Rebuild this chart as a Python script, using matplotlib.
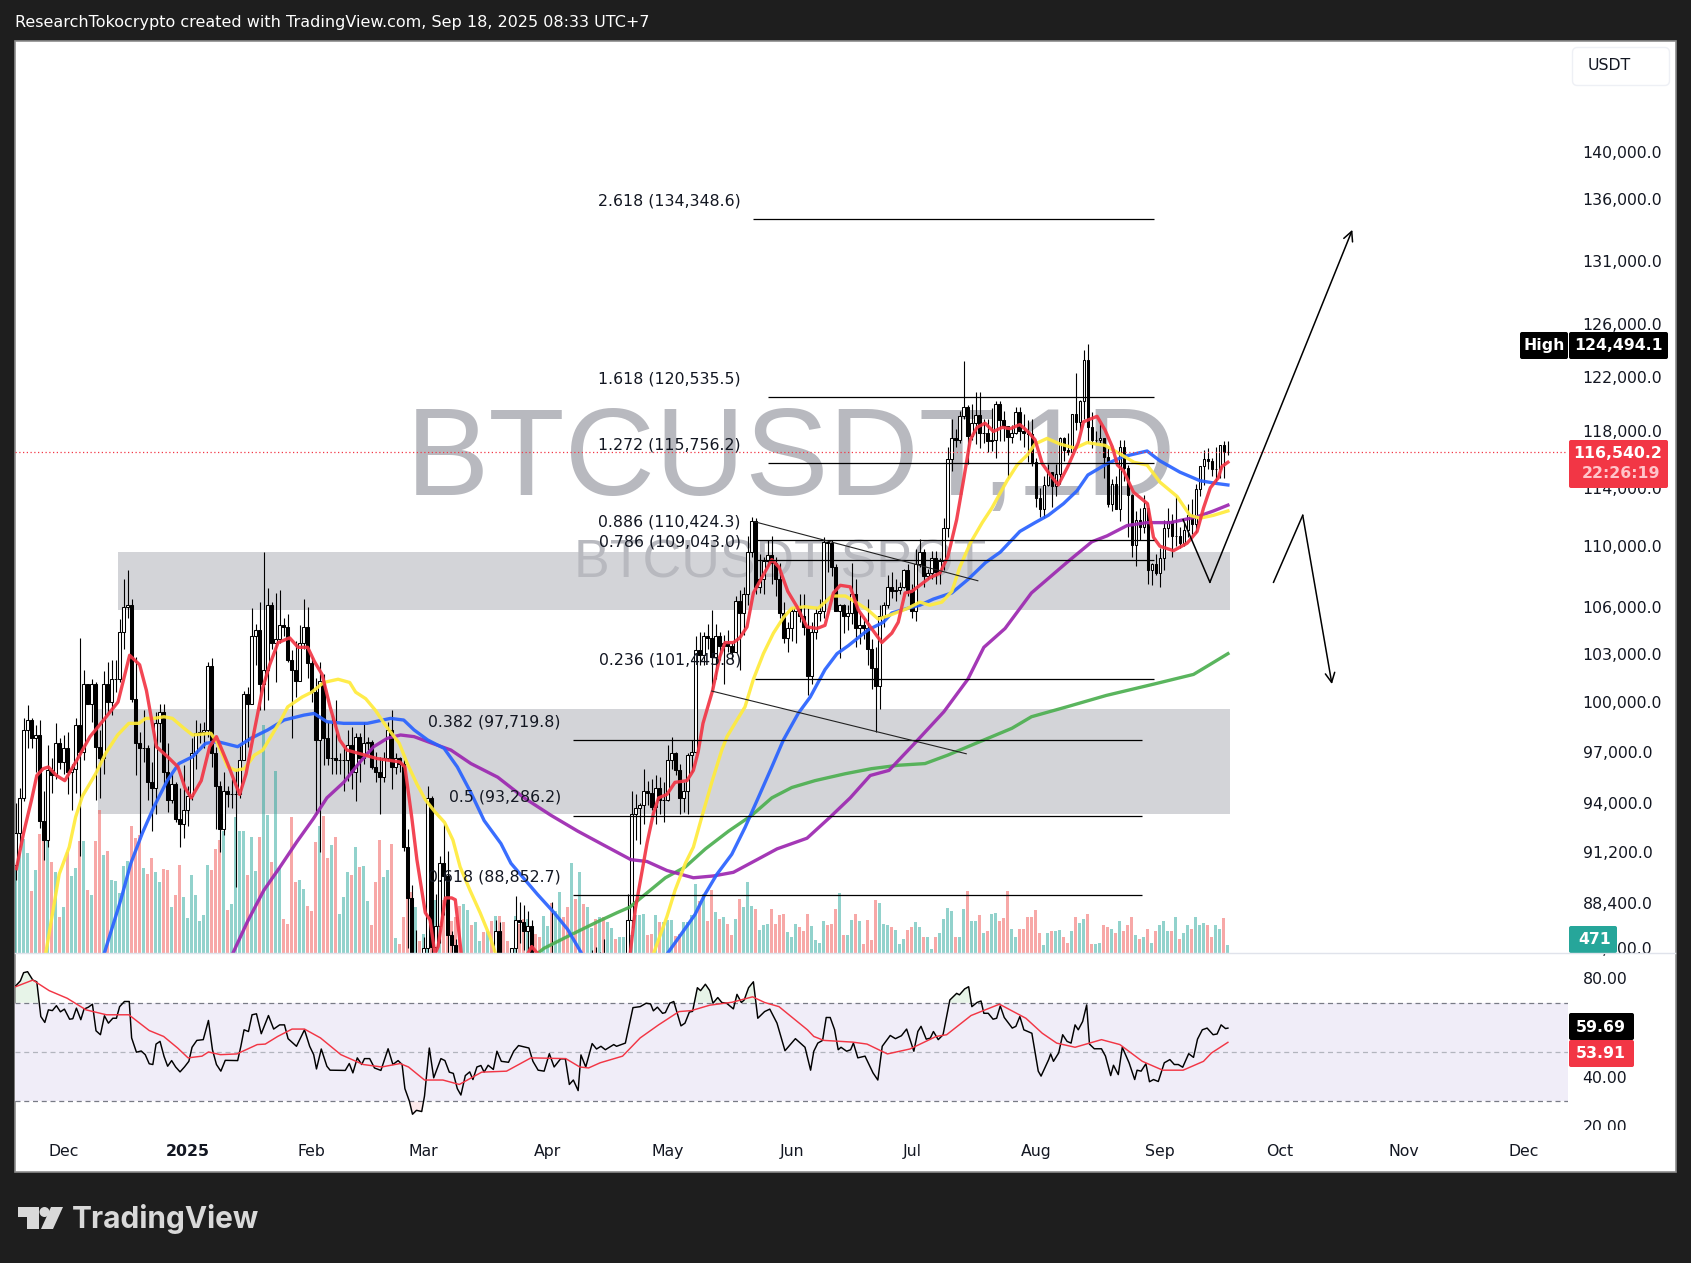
import numpy as np
import matplotlib
matplotlib.use("Agg")
import matplotlib.pyplot as plt
from matplotlib.patches import Rectangle, FancyBboxPatch, Polygon, Circle

# ---------- daily candles, thousands of USDT, 19 Nov 2024 .. 18 Sep 2025 ----------
first_open = 90.5
highs = [94.0,94.9,99.0,99.8,99.0,98.6,98.9,94.7,97.4,96.6,98.7,97.8,
 98.0,98.2,96.3,99.0,104.0,102.0,101.0,101.4,101.2,98.3,101.9,102.5,102.6,102.6,105.2,107.8,108.4,106.5,102.8,98.2,99.5,97.4,96.4,99.4,99.9,99.9,97.5,95.7,95.2,94.9,96.2,
 95.0,97.8,98.9,98.7,98.8,102.5,102.7,97.3,95.3,95.8,95.0,95.4,95.9,97.4,100.7,100.9,105.9,104.9,106.3,109.6,107.2,106.3,106.9,107.1,105.3,105.5,103.2,103.8,104.8,106.5,106.0,
 102.8,101.5,102.5,101.7,98.8,99.2,100.1,96.9,97.3,98.3,98.5,98.1,98.1,98.8,97.9,97.7,97.0,96.7,97.0,98.8,99.5,96.9,96.7,96.5,92.5,89.4,87.0,85.1,
 86.6,95.0,94.4,88.9,91.0,92.8,91.3,86.9,86.5,84.1,83.6,84.4,84.3,85.3,84.7,85.1,84.7,84.1,87.5,87.4,85.0,84.5,86.0,88.8,88.5,88.3,88.0,87.5,84.6,83.5,83.9,
 85.5,88.5,83.9,84.7,84.2,83.8,81.2,80.8,83.5,82.7,84.3,85.9,86.1,85.8,86.5,85.5,85.5,85.1,85.7,85.3,88.9,94.7,94.5,94.0,96.0,95.3,95.4,95.6,95.5,95.2,
 97.4,97.9,97.0,96.3,95.2,96.9,97.7,104.1,104.4,104.4,104.9,105.8,104.9,104.4,104.2,104.5,103.7,106.7,107.1,107.3,110.7,112.0,111.9,109.5,109.3,110.4,110.7,109.3,108.9,106.3,105.0,
 105.9,105.9,106.8,106.8,105.9,105.0,105.9,106.5,110.6,110.4,110.4,108.8,106.2,106.2,106.1,108.9,107.8,105.6,105.3,106.5,103.9,103.4,106.1,106.3,108.1,108.3,107.8,107.6,108.5,108.8,
 107.5,109.8,110.5,109.8,108.5,109.7,109.7,109.2,111.9,116.9,118.9,118.2,119.5,123.2,119.9,120.0,120.9,120.9,118.9,118.9,119.7,120.2,120.2,119.5,118.4,118.5,119.8,119.8,119.3,118.8,118.9,
 116.1,114.0,114.8,115.7,115.1,115.7,117.6,117.6,117.9,119.3,122.3,120.3,124.0,124.5,119.4,118.0,118.6,117.5,116.8,114.6,114.8,117.4,117.4,115.6,113.6,112.4,112.6,113.5,112.6,108.9,109.5,
 109.9,111.8,112.6,112.2,113.4,111.3,111.6,112.9,113.2,114.3,115.4,116.7,116.8,116.1,116.9,117.0,117.3,117.3]
lows = [89.7,91.5,94.1,97.2,97.2,95.8,92.6,90.8,91.5,94.6,95.4,96.0,
 95.7,94.5,93.6,94.6,91.0,96.5,99.9,98.8,94.2,94.3,95.7,99.3,99.2,100.6,101.2,103.3,105.3,100.0,95.6,92.1,96.4,94.2,92.4,93.4,97.6,95.1,93.5,94.0,92.9,91.5,92.0,
 92.7,94.2,96.0,97.5,97.2,97.9,96.1,92.5,91.2,92.2,93.8,93.7,89.3,94.3,96.5,97.3,99.9,102.3,99.5,99.5,100.1,103.3,101.2,103.7,104.1,102.5,97.8,100.3,101.3,103.3,101.5,
 100.0,93.4,91.2,96.2,96.2,95.7,95.7,95.7,94.7,95.3,94.8,94.1,95.2,96.3,97.1,96.0,95.2,93.4,95.2,96.5,94.8,95.7,95.8,91.3,86.0,82.3,82.7,78.2,
 83.4,85.0,85.1,81.4,86.3,87.8,84.7,85.2,80.0,77.5,76.6,80.6,79.9,80.8,83.6,81.9,82.4,81.1,82.6,83.6,83.2,83.7,83.8,85.5,86.3,85.9,85.9,83.1,81.6,81.6,81.3,
 82.4,82.3,81.2,81.6,82.4,77.2,74.5,76.2,74.6,78.5,78.9,82.8,83.0,83.2,83.6,83.1,83.7,84.1,84.4,83.9,85.1,87.1,91.9,91.7,92.8,93.9,93.6,92.8,93.4,92.9,
 94.1,96.0,95.6,93.4,93.5,93.4,95.8,96.9,102.3,102.3,103.3,100.8,101.4,102.6,101.1,103.1,102.6,103.1,102.0,104.2,106.1,109.3,106.8,106.9,106.8,108.7,107.5,106.7,105.3,103.7,103.1,
 103.8,103.7,105.0,104.2,100.4,101.1,103.9,105.1,105.3,108.3,108.0,105.7,102.7,104.3,104.5,104.9,103.4,103.6,103.9,102.3,100.8,98.2,99.6,104.7,105.9,106.6,106.4,106.8,107.2,106.7,
 105.3,105.1,108.6,107.3,107.8,107.8,107.5,107.5,108.4,110.6,115.2,116.9,117.2,118.9,115.7,117.4,117.1,116.8,117.2,116.5,116.6,116.1,117.3,117.3,114.7,117.2,117.8,117.4,116.9,115.8,115.5,
 112.7,112.0,111.9,114.1,112.7,113.4,114.3,115.9,116.3,116.5,118.1,118.2,118.9,117.2,116.8,117.2,117.2,114.7,112.7,112.4,112.6,111.7,114.5,110.6,109.3,108.7,110.4,110.9,107.5,107.4,108.1,
 107.3,108.4,110.6,109.3,110.0,109.9,110.0,110.6,110.8,110.9,113.4,114.2,115.3,114.8,114.4,114.7,114.7,116.3]
closes = [92.3,94.3,98.3,98.9,97.8,98.0,93.0,91.9,95.9,95.6,97.5,96.4,
 97.2,95.8,96.0,98.6,97.0,101.1,99.9,101.1,97.3,96.6,101.1,100.0,101.4,101.4,104.4,106.0,106.1,100.2,97.5,97.2,97.2,95.2,94.9,98.7,99.4,95.8,94.2,95.1,93.1,92.8,93.6,
 94.4,96.9,98.1,98.2,98.3,102.2,96.9,95.0,92.5,94.7,94.5,94.5,94.5,96.5,100.5,99.9,104.1,104.5,101.1,102.0,106.1,103.7,103.9,104.8,104.7,102.6,102.0,101.3,103.7,104.7,102.4,
 100.6,97.7,101.3,97.8,96.6,96.6,96.5,96.5,96.5,97.4,95.8,97.9,96.6,97.5,97.6,96.1,95.8,95.5,96.6,98.3,96.1,96.6,96.3,91.5,88.7,84.2,84.7,84.4,
 86.0,94.3,86.1,87.2,90.6,89.9,86.7,86.2,80.7,78.6,82.9,83.7,81.1,83.9,84.3,82.6,84.1,82.7,86.9,84.2,84.0,83.8,86.0,87.5,87.4,86.9,87.2,84.4,82.6,82.4,82.5,
 85.2,82.5,83.1,83.8,83.5,78.4,79.2,76.3,82.6,79.6,83.4,85.3,83.7,84.5,83.6,84.0,84.9,84.5,85.1,85.2,87.5,93.4,93.7,93.9,94.7,94.6,93.8,94.9,94.2,94.2,
 96.5,96.9,95.9,94.3,94.7,96.8,97.0,103.2,102.9,104.1,104.0,102.8,104.1,103.5,103.7,103.5,103.1,106.4,105.6,106.8,109.6,111.7,107.3,107.8,109.0,109.4,108.9,107.8,105.6,104.0,104.6,
 105.7,105.9,105.4,104.7,101.6,104.4,105.6,105.7,110.3,110.2,108.6,105.7,106.1,105.4,105.6,106.8,104.6,104.8,104.6,103.3,102.1,101.0,105.4,106.1,107.3,107.0,107.1,107.3,108.4,107.1,
 105.7,108.8,109.6,108.0,108.2,109.2,108.3,109.0,111.2,116.0,117.5,117.4,119.1,119.8,117.7,118.6,119.2,117.9,117.9,117.3,117.4,120.0,118.8,118.4,117.6,117.9,119.4,118.0,117.9,117.8,115.8,
 113.3,112.5,114.2,115.1,114.1,115.0,117.5,116.7,116.5,119.3,118.7,120.2,123.3,118.3,117.4,117.4,117.5,116.2,112.9,114.3,112.5,116.9,115.4,113.5,110.1,111.8,111.3,112.6,108.4,108.8,108.2,
 109.2,111.2,111.7,110.7,110.7,110.2,111.1,112.1,111.5,113.9,115.5,116.0,115.9,115.3,115.3,117.0,116.5,116.54]
volumes = [255,300,343,300,185,250,358,355,340,272,242,107,137,302,230,255,335,335,188,175,337,428,295,305,218,215,180,260,275,380,345,355,255,238,285,242,212,253,250,137,173,263,167,105,235,173,95,113,265,250,313,340,365,130,148,407,365,367,235,347,245,347,685,415,272,545,255,103,88,407,212,220,193,142,127,
 332,382,412,284,325,347,117,167,244,234,317,257,260,157,85,214,340,229,250,327,45,27,109,237,182,139,37,57,107,102,159,152,160,157,97,107,142,147,129,85,92,37,62,67,95,112,112,92,35,12,110,87,102,102,67,57,49,112,82,149,127,182,107,139,270,162,242,147,137,75,102,107,107,92,74,42,47,49,
 93,53,113,113,118,53,58,113,93,93,100,100,50,58,93,93,113,206,156,178,96,188,123,103,108,86,55,101,161,138,213,140,133,68,83,88,133,88,115,118,63,48,88,78,66,116,80,38,31,96,83,88,131,181,53,53,100,118,96,28,98,38,158,151,88,85,78,70,28,43,70,78,93,78,
 47,47,12,47,59,101,136,125,47,47,133,187,95,95,113,59,65,116,119,97,104,187,71,47,71,71,107,109,128,59,24,59,65,65,68,47,30,65,109,89,101,116,26,26,30,83,79,71,59,95,65,83,107,53,42,47,71,30,65,83,95,65,65,109,42,59,83,71,109,83,89,83,47,83,71,104,24]

# ---------- moving averages (bar index, thousands of USDT) ----------
red_x = [0.2,2,4,5.3,6.9,8.2,10.2,12.3,15.3,18.6,22,25.6,28.5,31,32.7,35.2,38,40.6,42.3,43.9,46.4,48.5,50.2,53,54.8,56,57.6,59.7,61.8,63.5,65.6,68.5,70.6,73,74.7,76.6,78.6,81,82.8,90.3,96,97.3,99,100.3,102.4,103.6,104.8,105.6,107.4,109,109.9,111.4,113,120,126,129,131,136,143,150,153.6,154.9,157.8,159.4,160.7,162.8,164.8,167.8,169.4,170.6,171.8,174.2,176,177.3,179.4,181,182.8,184.4,186.5,189,190.8,193,195.3,197.8,200.3,202.3,204.4,206.1,208.6,210.6,212.8,216.5,219,220.6,222.3,224,226,228.5,231,233,235.2,236.9,238.6,240.3,242.3,244.4,246.6,248.6,251,253,254.8,256.6,258.6,260.6,263,265.6,266.9,270.3,272.3,274.1,275.4,276.9,279.4,282.9,284.4,286,289.4,292.8,295.3,296.9,298.6,300.6,301.5,303]
red_y = [90.3,92.3,94.2,95.6,96.0,96.1,95.6,95.3,96.5,97.9,98.9,100,102.9,102.3,100.7,97.3,96.7,96.1,94.9,94.3,95.3,97.3,97.9,96.3,95.2,94.5,95.7,98.3,100.9,102.3,103.7,104,103.4,103.4,102.5,101.7,99.7,97.7,97.1,96.6,96.4,96.1,93.2,90.8,87.9,87.5,85.7,86.1,88.7,88.7,88.6,85.7,84.6,83.2,85,86.1,85.6,82.5,80.5,83.5,85.7,88.1,91.7,93.4,94.3,94.5,95.2,95.3,95.9,97,98.7,100.7,102.8,103.7,103.7,104,104.7,106.9,107.9,109.1,108.6,107,106,104.7,104.6,104.8,106.9,107.4,107.3,105.8,105,103.7,104.3,105,106.9,107,107.4,107.9,108.2,109.3,111.8,114.5,117.4,118.3,118.6,118,118.3,118.2,118.5,118,117.4,115.7,114.9,114.2,115.5,117.2,118.7,119.1,118.1,116.9,115.6,115.2,113.7,112.9,110.6,110,109.7,110.2,111,112.6,114,114.7,115.5,115.8]
yellow_x = [7.5,10.9,13.4,15,16.7,20,22.5,25.5,28.3,30.8,32.5,34.6,37.1,39.2,42.1,44.2,48.8,50.5,53,55,57.2,59.7,61.8,63.8,66.3,68,71.6,74,77,80.6,83.5,85,87.5,89.9,92.4,95.9,97.9,100.3,102.4,104.8,107.2,109.3,111.1,113.6,116.1,118.6,120,125,135,145,152,158,159.4,162.8,164.8,167.4,169.4,171.5,174,176.5,177.8,180.3,182.3,184.4,186.9,189.4,191.9,194,197.3,200.6,204,207.4,210.6,213,215.6,219,223,226,228.5,231.5,234,236,238.6,241.6,244,247.8,250.3,252.8,254.8,257.8,261,264.8,267.8,272.3,276,279.5,282.8,286,290.3,293.5,296,299.4,303]
yellow_y = [85.7,90,91.5,93.2,94.4,95.7,96.9,98,98.7,98.7,99,99,99.1,99,98.4,98,98.1,97.5,96.1,95.9,96,96.8,97.1,97.9,98.9,99.7,100.3,100.6,101.2,101.4,101.2,100.6,100.2,99.5,98.6,97.5,96.3,95.1,94.2,93.5,92.9,91.9,90.4,89.1,87.9,86.6,85.7,84,83,81.5,82,84,85.7,87.7,89.1,90.6,91.5,93.2,95.2,97.1,97.9,98.9,99.7,101.4,103,104.3,105.3,105.9,106,105.9,106.7,106.7,106.2,105.8,105.2,105.5,105.9,106.3,106.1,106.3,107,108.6,110.2,111.6,112.6,114.5,115.6,116.3,117.1,117.5,117.1,116.8,117.2,117,116.4,115.8,115.6,114.4,113.4,112.1,111.9,112.1,112.4]
blue_x = [22.1,26.3,28.8,31.7,34.6,37.9,40.8,44.2,47.5,50.5,55.5,58.8,63,67.1,72.1,74.6,77.8,82,87.9,93.7,97,99.6,103,107.1,110.4,113.8,117.1,121.3,123.8,130.4,134.6,138,141.3,147,152,158,162.8,166.5,169.8,172.3,175.3,179,182.3,185.6,189,191.9,195.6,198.6,202.3,205.3,208.1,213,216.9,219,223,226,229.4,234,238.1,242.4,246.1,251,254.8,258.1,261.9,265.3,268,272.8,276.9,282.8,286,291,296,300.3,303]
blue_y = [85.7,88.6,90.6,92.3,93.8,95.3,96.3,96.7,97.5,97.6,97.3,97.8,98.3,98.9,99.2,99.3,98.8,98.7,98.7,99,98.9,98.3,97.7,97.2,96.1,94.6,93,91.7,90.6,88.9,87.9,87,85.8,83,83,84,85.7,86.8,87.8,88.9,90,91.1,92.6,94.3,96.1,97.7,99.3,100.3,102,103,103.5,104.5,105,105.6,105.9,106.1,106.5,106.9,107.8,108.9,109.6,111,111.6,112.1,112.9,113.8,114.9,115.7,116.2,116.6,115.9,115.1,114.5,114.3,114.2]
purple_x = [54.2,57.9,62,66.1,70.3,74.4,77.8,82,86.1,89.5,92.9,96.2,99.6,103,108.8,113.8,120.5,127.1,133.8,140.5,147.1,153.8,157.8,162.8,169.4,174.4,179.4,185.3,190.3,197.8,203.6,208.6,213.6,218.3,224.7,232,238,242,247.3,253.9,262.7,269,272.8,277.8,282.8,288.6,295.3,299.4,303]
purple_y = [85.7,87.4,89.1,90.4,91.8,93.1,94.3,95.2,96.4,97.3,97.8,98,97.9,97.6,97.1,96.3,95.5,94.3,93.3,92.4,91.6,90.8,90.7,90.2,89.8,89.9,90.1,90.8,91.4,92,93.2,94.3,95.6,95.9,97.5,99.4,101.4,103.4,104.6,106.9,108.9,110.3,110.7,111.4,111.6,111.6,112,112.4,112.8]
green_x = [130.3,132,138.6,145.3,150.3,153.5,157.4,162.4,167.4,172.4,178.2,184,189,194,199.8,207.3,213.9,220.6,227.3,233,240,249,253.9,262.7,272.6,284.5,294.4,298.4,303]
green_y = [85.7,86,86.7,87.4,87.9,88.2,88.9,89.8,90.4,91.4,92.4,93.3,94.3,94.9,95.3,95.7,96,96.2,96.3,96.8,97.5,98.4,99.1,99.7,100.4,101.1,101.7,102.3,103]

# ---------- RSI ----------
rsi_x = [0,1.2,2,3,4.3,5.3,6.3,7.3,8.2,9.2,10.2,11.2,12.2,13.5,14.3,15.2,16.3,17.1,18.2,19.2,20.1,21.2,22.2,23.2,24.3,25.2,26,27.2,28.4,29,30.2,31.4,32.4,33.4,34.3,35.1,36.1,37.1,38,39,40,41.1,42.2,43.3,44.1,45.3,46.9,48.2,49.2,50.2,51.3,52.4,55.5,56.3,57.1,58.2,59.1,60.2,61.4,63.2,64.5,66,67.2,68.1,70.2,72.2,73.5,74.5,75.2,76.4,77.8,78.6,82.4,83.4,84.3,85.4,86.5,87.2,88.5,89.7,91.3,93.1,94.3,95.6,96.6,97.3,98.4,99.2,100.2,101.5,102.2,103.4,104.5,106.3,107.3,108.4,109.4,110.4,111.3,112.4,113.5,114.3,115.3,116.3,117.1,118.1,119.4,120.3,121.4,123.2,124.5,125.7,128.3,129.3,130.6,132.1,133.4,134.6,136.2,137.4,138.4,139.4,140.6,141.3,142.5,144.1,145.2,146.3,147.4,149.5,150.2,152.4,154.3,156.1,157.6,158.7,159.4,160.4,161.7,162.4,163.5,164.5,166.3,167.3,168.4,169.2,170.4,171.2,172.4,173.5,174.3,175.5,176.5,177.7,179.4,180.3,181.4,182.1,183.2,184.4,185.5,187.2,188.5,190.3,192.3,194.9,197.3,198.7,199.5,200.5,201.7,202.6,203.6,204.7,205.6,206.3,207.7,208.7,209.4,210.5,212.3,214.3,215.5,216.6,218.6,219.9,221.4,222.7,224.5,225.5,226.3,227.6,228.6,229.4,230.6,231.8,233.5,235.2,235.9,237.2,238.2,239,240.3,241.3,242,243.1,244.3,245.2,246.1,247.1,249.1,250,251,252,254,255.6,256.3,258.2,258.7,259.4,260.7,261.7,262.8,263.8,264.8,265.6,266.7,267.7,268.4,269.6,271.4,272.4,273.7,274.4,275.6,276.6,278.3,279.7,280.3,281.3,282.5,283.4,284.4,285.6,287.1,288.5,289.6,290.6,291.7,293.2,294.4,295.4,296.6,297.8,299.3,300.3,301.3,302.4,303]
rsi_y = [76.8,78.9,82.2,82.6,79.2,78.5,64.4,62.0,67.1,66.8,68.8,66.3,67.4,63.3,63.5,67.8,63.1,67.4,68.2,69.4,58.6,57.0,64.7,61.7,63.7,63.7,68.4,70.5,70.5,55.7,49.9,50.4,48.9,45.2,44.9,53.2,54.3,48.2,44.2,46.5,43.9,41.9,43.9,46.2,51.9,54.7,55.0,62.8,50.9,44.9,42.2,46.6,46.5,52.3,59,58.3,65.1,65.5,57.4,64.8,59.3,61.0,61.0,55.4,52.3,59.0,52.3,48.9,43.1,51.2,44.2,42.6,42.5,45.3,41.5,47.6,44.9,47.3,47.3,43.5,42.5,51.3,44.9,46.5,44.9,35.1,30.1,24.7,26.3,25.8,32.1,51.6,39.5,47.3,46.5,41.8,41.3,35.1,32.5,40.4,41.9,38.8,43.9,44.5,41.8,44.6,42.9,50.3,46.2,45.8,50.3,52.6,51.6,46.2,42.6,42.2,49.3,43.9,47.2,47.2,36.8,38.6,34.3,48.8,43.9,53.4,51.2,52.3,50.9,53,52.3,53.6,68.0,68.4,69.8,69.5,66.7,68.2,65.7,66,69.8,70.5,60.6,61.7,66.2,66.5,76.1,74.9,77.5,74.9,69.8,72.1,70.1,69.8,67.5,73.4,70.1,71.1,76.1,78.5,63.7,66.4,67.4,61.7,50.5,55.4,51.9,42.6,50.3,53.6,54.7,64,64,59,50.9,51.9,50.3,50.9,53.6,47.6,48.3,41.5,38.6,52.3,56.7,55.4,56.6,59.3,50.3,58.3,60.4,55.2,55.6,58.3,55,57,71.1,73.8,73.2,75.6,76.5,68.4,70.1,70.7,65.7,65.7,63.3,63.7,68.7,64,59.7,60.4,64.4,59,57.6,42.2,40.2,46.9,49.2,46.2,49.6,57,54.3,53.6,61,59,62.4,69.1,53.2,51.3,51.3,48.3,40.4,44.6,40.8,51.9,45.6,38.8,42.6,42.2,45.2,37.9,38.8,38,45.6,46.9,44.9,44.9,43.8,49.3,47.8,55.2,59,59.7,57,57.3,61,59.5,59.69]
rsi_ma_x = [0,4.3,8.4,12.9,17.6,22.7,28.3,33.4,37,40.5,43.1,46.6,48.2,51.2,55.3,60.4,62.4,65.5,69.1,72.2,76.2,81.3,86.9,91.5,96.1,98.2,102.2,106.8,110.9,116.5,122.7,128.8,137.5,141,143.2,146.1,151.7,156.1,160.7,165.8,168.9,173.5,179.1,184.2,187.2,190.8,197.9,199.5,202,209.2,212.8,217.9,223.5,230.1,232.7,238.8,245.9,252.5,256.6,260.2,264.8,271.4,276,281.6,286.7,291.8,296.9,298.9,303]
rsi_ma_y = [76.5,79.2,74.9,71.8,67.1,65.1,65.1,58.7,56.3,51.6,47.6,48.3,50,48.9,49.2,53,53.2,56.3,59.3,59.3,55.7,48.9,44.9,43.9,45.3,43.9,38.6,38.6,36.8,41.8,42.2,47.6,47.3,43.9,43.5,45.6,48.3,55.7,61,66.4,66.8,69,70.2,72.4,70.1,68.4,59,56.3,54.7,54,53.2,49.2,51.2,56.3,57,64.8,69.4,63.7,57.6,53.6,51.9,55,53,46.2,42.6,42.6,46.2,49.6,53.91]

# ---------- annotations ----------
fib_labels = ["2.618 (134,348.6)","1.618 (120,535.5)","1.272 (115,756.2)","0.886 (110,424.3)","0.786 (109,043.0)","0.236 (101,445.8)","0.382 (97,719.8)","0.5 (93,286.2)","0.618 (88,852.7)"]
fib_prices = [134348.6,120535.5,115756.2,110424.3,109043.0,101445.8,97719.8,93286.2,88852.7]
fib_start = [184.2,188,188,184.8,184.8,184.8,139.2,139.2,139.2]
fib_end = [284.5,284.5,284.5,284.5,284.5,284.5,281.5,281.5,281.5]
fib_label_x = [181.3,181.3,181.3,181.3,181.3,181.3,136.3,136.3,136.3]
zone_start = [25.5,20.6]
zone_end = [303.4,303.4]
zone_top = [109600,99600]
zone_bottom = [105770,93360]
trend_upper_x, trend_upper_y = [184.7,240.5],[111660,107700]
trend_lower_x, trend_lower_y = [174,237.6],[100670,96880]
up_path_x, up_path_y = [291.8,298.5,334.1],[111800,107600,133500]
down_path_x, down_path_y = [314.4,321.7,329],[107600,112100,101100]
last_price = 116540.2

price_ticks = [140000,136000,131000,126000,122000,118000,114000,110000,106000,103000,100000,97000,94000,91200,88400,86000]
rsi_ticks = [80,60,40,20]
time_idx = [12,43,74,102,133,163,194,224,255,286,316,347,377]
time_labels = ["Dec","2025","Feb","Mar","Apr","May","Jun","Jul","Aug","Sep","Oct","Nov","Dec"]

# ---------- layout ----------
W, H = 1691, 1263
BG = "#1e1e1e"; INK = "#131722"; RED = "#f23645"
plt.rcParams["font.family"] = ["DejaVu Sans"]
FS = 11.3

def box(l, t, r, b):
    return [l/W, 1-b/H, (r-l)/W, (b-t)/H]

fig = plt.figure(figsize=(W/100, H/100), dpi=100, facecolor=BG)

XL = (-0.15, 388.0)
YL = (85760, 149850)
L, R, T, MID, BOT = 15, 1568, 41, 953, 1130

frame = fig.add_axes(box(0, 0, W, H), zorder=0)
frame.set_xlim(0, W); frame.set_ylim(H, 0); frame.axis("off")
frame.add_patch(Rectangle((14.5, 40.5), 1661, 1131.5, fc="white", ec="#8c8c8c", lw=1.2))

def price_axes(z):
    a = fig.add_axes(box(L, T, R, MID), zorder=z)
    a.set_yscale("log"); a.set_xlim(*XL); a.set_ylim(*YL)
    a.patch.set_alpha(0)
    for s in a.spines.values():
        s.set_visible(False)
    a.set_xticks([]); a.set_yticks([]); a.minorticks_off()
    return a

ax_zone = price_axes(1)
for x0, x1, p1, p0 in zip(zone_start, zone_end, zone_top, zone_bottom):
    ax_zone.fill_between([x0, x1], p0, p1, color="#d3d4d8", lw=0, zorder=1)
ax_zone.text(0.4999, 0.537, "BTCUSDT,1D", transform=ax_zone.transAxes, ha="center", va="center",
             fontsize=90, color="#b8b9bf", family="Liberation Sans", zorder=2)
ax_zone.text(0.4924, 0.4275, "BTCUSDT SPOT", transform=ax_zone.transAxes, ha="center", va="center",
             fontsize=38.5, color="#b8b9bf", family="Liberation Sans", zorder=2)

n = len(closes)
idx = np.arange(n)
close_arr = np.array(closes)*1000
high_arr = np.array(highs)*1000
low_arr = np.array(lows)*1000
open_arr = np.r_[first_open*1000, close_arr[:-1]]
up = close_arr >= open_arr

ax_vol = fig.add_axes(box(L, T, R, MID), zorder=2)
ax_vol.set_xlim(*XL); ax_vol.set_ylim(0, (MID-T)*3)
ax_vol.patch.set_alpha(0); ax_vol.axis("off")
ax_vol.bar(idx, volumes, width=0.74, color=np.where(up, "#26a69a", "#f05350"), alpha=0.5, lw=0)

ax = price_axes(3)
ax.vlines(idx, low_arr, high_arr, color="black", lw=0.8, zorder=3)
body_lo = np.minimum(open_arr, close_arr)
body_hi = np.maximum(open_arr, close_arr)
ax.bar(idx, body_hi-body_lo, bottom=body_lo, width=0.68,
       color=np.where(up, "white", "black"), edgecolor="black", lw=0.75, zorder=4)
for xs, ys, c in [(green_x, green_y, "#4caf50"), (purple_x, purple_y, "#9c27b0"),
                  (blue_x, blue_y, "#2962ff"), (yellow_x, yellow_y, "#ffeb3b"), (red_x, red_y, "#f23645")]:
    ax.plot(xs, np.array(ys)*1000, color=c, lw=2.4, alpha=0.92, zorder=5, solid_joinstyle="round")
ax.axhline(last_price, color=RED, lw=0.9, ls=(0, (1, 2)), zorder=6)
for lbl, p, a, b, lx in zip(fib_labels, fib_prices, fib_start, fib_end, fib_label_x):
    ax.hlines(p, a, b, color="black", lw=0.9, zorder=6)
    ax.annotate(lbl, (lx, p), xytext=(0, 13), textcoords="offset points", ha="right", va="center",
                fontsize=FS, color=INK, zorder=7)
ax.plot(trend_upper_x, trend_upper_y, color="#222222", lw=0.8, zorder=6)
ax.plot(trend_lower_x, trend_lower_y, color="#222222", lw=0.8, zorder=6)
for xs, ys in [(up_path_x, up_path_y), (down_path_x, down_path_y)]:
    ax.plot(xs[:2], ys[:2], color="black", lw=1.1, zorder=6)
    ax.annotate("", xy=(xs[2], ys[2]), xytext=(xs[1], ys[1]),
                arrowprops=dict(arrowstyle="->", color="black", lw=1.1, mutation_scale=17, shrinkA=0, shrinkB=0), zorder=6)
ax.yaxis.tick_right()
ax.set_yticks(price_ticks)
ax.set_yticklabels([f"{v:,.1f}" for v in price_ticks], fontsize=FS, color=INK)
ax.tick_params(axis="y", which="major", length=0, pad=10.5)
ax.tick_params(axis="y", which="minor", length=0, labelright=False)
ax.minorticks_off()

# ---------- RSI pane ----------
ax_r = fig.add_axes(box(L, MID+1, R, BOT), zorder=3)
ax_r.set_xlim(*XL)
ax_r.set_ylim(80-(BOT-978.1)/2.462, 80+(978.1-(MID+1))/2.462)
ax_r.patch.set_alpha(0)
for s in ax_r.spines.values():
    s.set_visible(False)
ax_r.axhspan(30, 70, color="#f0edf8", lw=0, zorder=1)
ax_r.axhline(70, color="#787b86", lw=0.9, ls=(0, (4, 3)), zorder=2)
ax_r.axhline(30, color="#787b86", lw=0.9, ls=(0, (4, 3)), zorder=2)
ax_r.axhline(50, color="#b2b5be", lw=0.9, ls=(0, (4, 3)), zorder=2)
rx, ry = np.array(rsi_x), np.array(rsi_y)
ax_r.fill_between(rx, 70, ry, where=ry > 70, interpolate=True, color="#4caf50", alpha=0.13, lw=0, zorder=2)
ax_r.fill_between(rx, 30, ry, where=ry < 30, interpolate=True, color="#f23645", alpha=0.10, lw=0, zorder=2)
ax_r.plot(rx, ry, color="black", lw=1.05, zorder=4)
ax_r.plot(rsi_ma_x, rsi_ma_y, color=RED, lw=1.05, zorder=4)
ax_r.yaxis.tick_right()
ax_r.set_yticks(rsi_ticks)
ax_r.set_yticklabels([f"{v:.2f}" for v in rsi_ticks], fontsize=FS, color=INK)
ax_r.tick_params(axis="y", length=0, pad=10.5)
ax_r.set_xticks(time_idx)
ax_r.set_xticklabels(time_labels, fontsize=FS, color=INK)
ax_r.tick_params(axis="x", length=0, pad=10)
for t, s in zip(ax_r.get_xticklabels(), time_labels):
    if s == "2025":
        t.set_fontweight("bold")

# ---------- chrome ----------
top = fig.add_axes(box(0, 0, W, H), zorder=10)
top.set_xlim(0, W); top.set_ylim(H, 0); top.axis("off"); top.patch.set_alpha(0)
top.plot([15, 1675], [953, 953], color="#e0e3eb", lw=1)
top.add_patch(Rectangle((1570, 1130), 100, 9, fc="white", ec="none"))
top.text(15, 22, "ResearchTokocrypto created with TradingView.com, Sep 18, 2025 08:33 UTC+7",
         color="white", fontsize=11.55, va="center", ha="left", family="DejaVu Sans")

def badge(x0, y0, x1, y1, c):
    top.add_patch(FancyBboxPatch((x0+1.5, y0+1.5), x1-x0-3, y1-y0-3, boxstyle="round,pad=1.5,rounding_size=2", fc=c, ec="none"))

top.add_patch(FancyBboxPatch((1574, 49), 94, 35, boxstyle="round,pad=1.5,rounding_size=5", fc="white", ec="#eef0f5", lw=1))
top.text(1588, 65, "USDT", color=INK, fontsize=FS, va="center")
badge(1520, 332, 1568, 359, "black")
badge(1569, 332, 1668, 359, "black")
top.text(1544, 345.5, "High", color="white", fontsize=FS, fontweight="bold", va="center", ha="center")
top.text(1618, 345.5, "124,494.1", color="white", fontsize=FS, fontweight="bold", va="center", ha="center")
badge(1569, 440, 1668, 488, RED)
top.text(1618, 453, "116,540.2", color="white", fontsize=FS, fontweight="bold", va="center", ha="center")
top.text(1582, 473.5, "22:26:19", color="#ffc4ca", fontsize=FS, fontweight="bold", va="center", ha="left")
badge(1569, 926, 1617, 953, "#26a69a")
top.text(1595, 940, "471", color="white", fontsize=FS, fontweight="bold", va="center", ha="center")
badge(1569, 1013, 1634, 1040, "black")
top.text(1601, 1027, "59.69", color="white", fontsize=FS, fontweight="bold", va="center", ha="center")
badge(1569, 1040, 1634, 1067, RED)
top.text(1601, 1053, "53.91", color="white", fontsize=FS, fontweight="bold", va="center", ha="center")

# TradingView mark and word
LOGO = "#d9d9d9"
top.add_patch(Polygon([(18, 1207), (39, 1207), (39, 1229), (27, 1229), (27, 1217), (18, 1217)], fc=LOGO, ec="none"))
top.add_patch(Circle((44.5, 1212), 5, fc=LOGO, ec="none"))
top.add_patch(Polygon([(51, 1207), (63, 1207), (53, 1229), (41, 1229)], fc=LOGO, ec="none"))
top.text(72, 1219, "TradingView", color=LOGO, fontsize=21.5, fontweight="bold", va="center", family="Inter")

fig.savefig("out.png", dpi=100, facecolor=BG)
